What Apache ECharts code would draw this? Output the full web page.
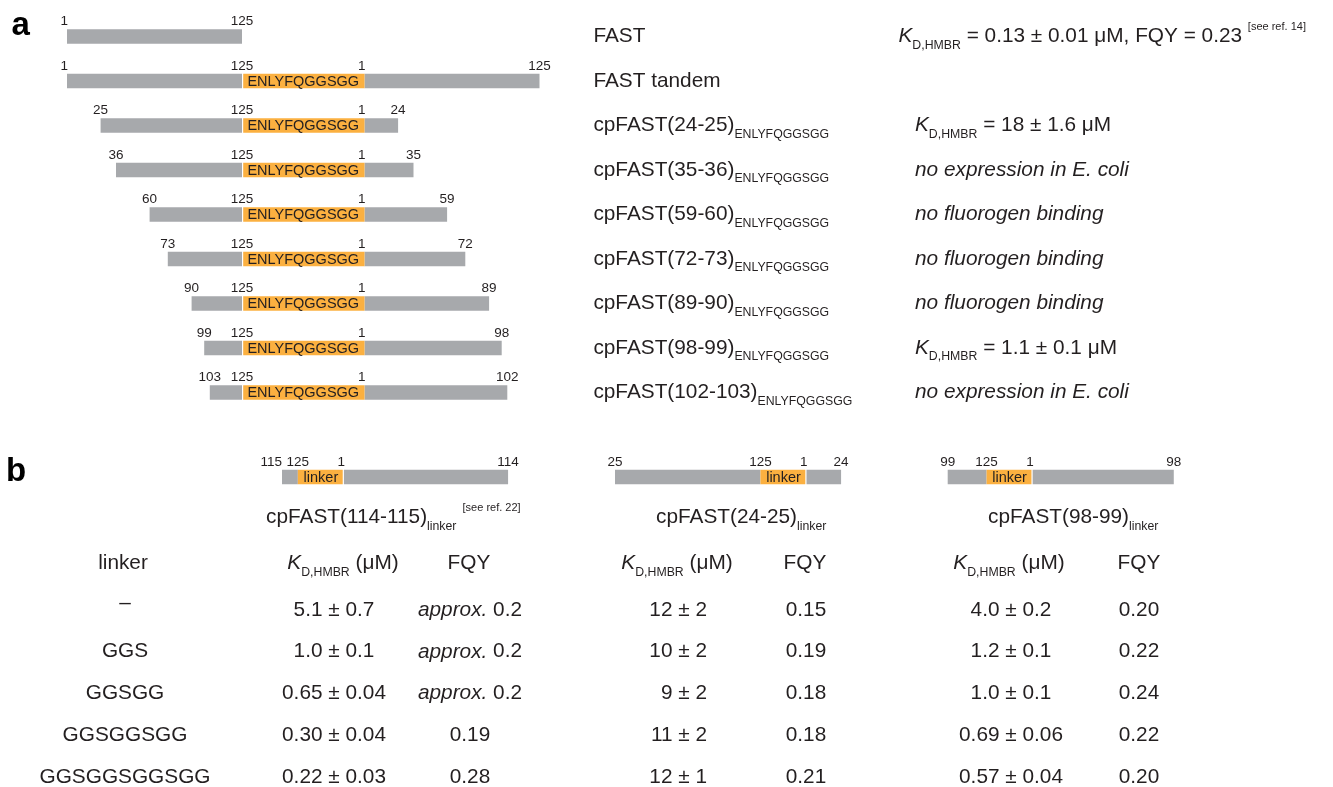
<!DOCTYPE html>
<html>
<head>
<meta charset="utf-8">
<script src="https://cdn.jsdelivr.net/npm/echarts@6/dist/echarts.min.js"></script>
<style>
  html, body { margin: 0; padding: 0; background: #ffffff; }
  #chart { width: 1333px; height: 787px; }
</style>
</head>
<body>
<div id="chart"></div>
<script>
// ---- Panel a: FAST, FAST tandem and circular permutants ----
const constructNames = ['FAST', 'FAST tandem', 'cpFAST(24-25)', 'cpFAST(35-36)', 'cpFAST(59-60)',
  'cpFAST(72-73)', 'cpFAST(89-90)', 'cpFAST(98-99)', 'cpFAST(102-103)'];
const constructSubscript = ['', '', 'ENLYFQGGSGG', 'ENLYFQGGSGG', 'ENLYFQGGSGG', 'ENLYFQGGSGG',
  'ENLYFQGGSGG', 'ENLYFQGGSGG', 'ENLYFQGGSGG'];
const constructFirst = [1, 1, 25, 36, 60, 73, 90, 99, 103];   // N-terminal residue
const constructLast = [125, 125, 24, 35, 59, 72, 89, 98, 102]; // C-terminal residue
const constructLinker = ['', 'ENLYFQGGSGG', 'ENLYFQGGSGG', 'ENLYFQGGSGG', 'ENLYFQGGSGG',
  'ENLYFQGGSGG', 'ENLYFQGGSGG', 'ENLYFQGGSGG', 'ENLYFQGGSGG'];
const constructNotes = ['K_D,HMBR = 0.13 ± 0.01 μM, FQY = 0.23', '', 'K_D,HMBR = 18 ± 1.6 μM',
  'no expression in E. coli', 'no fluorogen binding', 'no fluorogen binding', 'no fluorogen binding',
  'K_D,HMBR = 1.1 ± 0.1 μM', 'no expression in E. coli'];
const constructRefs = ['[see ref. 14]', '', '', '', '', '', '', '', ''];

// ---- Panel b: linker variants of three permutants ----
const cpNames = ['cpFAST(114-115)', 'cpFAST(24-25)', 'cpFAST(98-99)'];
const cpFirst = [115, 25, 99];
const cpLast = [114, 24, 98];
const cpRefs = ['[see ref. 22]', '', ''];

const linkerSeqs = ['–', 'GGS', 'GGSGG', 'GGSGGSGG', 'GGSGGSGGSGG'];
const kd114 = ['5.1 ± 0.7', '1.0 ± 0.1', '0.65 ± 0.04', '0.30 ± 0.04', '0.22 ± 0.03'];
const fqy114 = ['approx. 0.2', 'approx. 0.2', 'approx. 0.2', '0.19', '0.28'];
const kd24 = ['12 ± 2', '10 ± 2', '9 ± 2', '11 ± 2', '12 ± 1'];
const fqy24 = ['0.15', '0.19', '0.18', '0.18', '0.21'];
const kd98 = ['4.0 ± 0.2', '1.2 ± 0.1', '1.0 ± 0.1', '0.69 ± 0.06', '0.57 ± 0.04'];
const fqy98 = ['0.20', '0.22', '0.24', '0.22', '0.20'];

// ---- styling ----
const FONT = "'Liberation Sans', Arial, Helvetica, sans-serif";
const TEXT = '#231f20';
const GREY = '#a7a9ac';
const ORANGE = '#fbb040';
const BAR_H = 14.5;
const GAP = 1.2;
const NUM_SIZE = 13.5;
const MAIN_SIZE = 20.8;
const SUB_SIZE = 12.3;
const SUP_SIZE = 11;

// residue scale (px per residue) and drawn linker width in residue units
const SCALE_A = 1.40, LINK_A = 87.5, LEFT_A = 67;
const SCALE_B = 1.44, LINK_B = 32;
const B_STARTS = [282, 615, 947.7];
const B_CENTER_Y = 477;

function makeBarRenderer(first, last, linker, linkerUnits, gapSide) {
  return function (params, api) {
    const i = params.dataIndex;
    const row = api.value(1);
    const X = v => api.coord([v, row])[0];
    const yc = api.coord([api.value(0), row])[1];
    const top = yc - BAR_H / 2;
    const rect = (x0, x1, fill) => ({
      type: 'rect', shape: { x: x0, y: top, width: x1 - x0, height: BAR_H }, style: { fill: fill }
    });
    const grey = [], orange = [], texts = [];
    const aStart = first[i] - 1, aEnd = 125;
    grey.push(rect(X(aStart), X(aEnd), GREY));
    const labels = [{ v: aStart, t: String(first[i]) }, { v: aEnd, t: '125' }];
    if (linker[i]) {
      const lEnd = aEnd + linkerUnits, bEnd = lEnd + last[i];
      grey.push(rect(X(lEnd), X(bEnd), GREY));
      let lx0 = X(aEnd), lx1 = X(lEnd);
      if (gapSide === 'left') lx0 += GAP; else lx1 -= GAP;
      orange.push(rect(lx0, lx1, ORANGE));
      texts.push({
        type: 'text', x: (X(aEnd) + X(lEnd)) / 2, y: yc + 0.5,
        style: { text: linker[i], fill: TEXT, fontSize: 14.5, fontFamily: FONT, align: 'center', verticalAlign: 'middle' }
      });
      labels.push({ v: lEnd, t: '1' }, { v: bEnd, t: String(last[i]) });
    }
    labels.forEach((lb, k) => {
      let x = X(lb.v), align = 'center';
      if (lb.t === '1') { x += 1; align = 'right'; }
      else if (k === 0 && Math.abs(X(labels[1].v) - x) < 26) { align = 'right'; }
      texts.push({
        type: 'text', x: x, y: top - 7.5,
        style: { text: lb.t, fill: TEXT, fontSize: NUM_SIZE, fontFamily: FONT, align: align, verticalAlign: 'middle' }
      });
    });
    return { type: 'group', children: grey.concat(orange, texts) };
  };
}

// rich styles for axis labels (ECharts label naming)
const richLabel = {
  m: { fontSize: MAIN_SIZE, fontFamily: FONT, color: TEXT, lineHeight: 30 },
  i: { fontSize: MAIN_SIZE, fontFamily: FONT, color: TEXT, lineHeight: 30, fontStyle: 'italic' },
  k: { fontSize: MAIN_SIZE, fontFamily: FONT, color: TEXT, lineHeight: 30, fontStyle: 'italic' },
  s: { fontSize: SUB_SIZE, fontFamily: FONT, color: TEXT, lineHeight: SUB_SIZE, verticalAlign: 'bottom' },
  p: { fontSize: SUP_SIZE, fontFamily: FONT, color: TEXT, lineHeight: 25, verticalAlign: 'top' },
  g: { fontSize: MAIN_SIZE, fontFamily: FONT, width: 16.5, lineHeight: 30 }
};
// rich styles for free text (zrender naming)
const richText = {
  m: { fontSize: MAIN_SIZE, fontFamily: FONT, fill: TEXT, lineHeight: 30 },
  i: { fontSize: MAIN_SIZE, fontFamily: FONT, fill: TEXT, lineHeight: 30, fontStyle: 'italic' },
  k: { fontSize: MAIN_SIZE, fontFamily: FONT, fill: TEXT, lineHeight: 30, fontStyle: 'italic' },
  s: { fontSize: SUB_SIZE, fontFamily: FONT, fill: TEXT, lineHeight: SUB_SIZE, verticalAlign: 'bottom' },
  p: { fontSize: SUP_SIZE, fontFamily: FONT, fill: TEXT, lineHeight: 25, verticalAlign: 'top' },
  d: { fontSize: MAIN_SIZE, fontFamily: FONT, fill: TEXT, padding: [0, 0, 14, 0] }
};

function kdMarkup(str) {
  return '{k|K}{s|D,HMBR}{m|' + str.slice(8) + '}';
}
function cellMarkup(str) {
  if (str === '–') return '{d|–}';
  if (str.indexOf('approx.') === 0) return '{i|approx.}{m|' + str.slice(7) + '}';
  return '{m|' + str + '}';
}

const chart = echarts.init(document.getElementById('chart'), null, { renderer: 'canvas' });

// grids: panel a, then the three panel b constructs
const widthA = (125 + LINK_A + 125) * SCALE_A;
const grids = [{
  left: LEFT_A, top: 14.25, width: widthA, height: 400.5,
  containLabel: false, outerBoundsMode: 'none'
}];
const xAxes = [{ type: 'value', gridIndex: 0, min: 0, max: 125 + LINK_A + 125, show: false }];
const yAxes = [
  {
    type: 'category', gridIndex: 0, data: constructNames, inverse: true, position: 'right',
    axisLine: { show: false }, axisTick: { show: false }, splitLine: { show: false },
    axisLabel: {
      interval: 0, margin: 593.4 - (LEFT_A + widthA), align: 'left', rich: richLabel,
      formatter: (val, idx) => '{m|' + val + '}' + (constructSubscript[idx] ? '{s|' + constructSubscript[idx] + '}' : '')
    }
  },
  {
    type: 'category', gridIndex: 0, data: constructNames, inverse: true, position: 'right',
    axisLine: { show: false }, axisTick: { show: false }, splitLine: { show: false },
    axisLabel: {
      interval: 0, margin: 898.5 - (LEFT_A + widthA), align: 'left', rich: richLabel,
      formatter: (val, idx) => {
        const note = constructNotes[idx];
        if (!note) return '';
        const ref = constructRefs[idx];
        const body = note.indexOf('K_D,HMBR') === 0 ? kdMarkup(ref ? note + ' ' : note) : '{i|' + note + '}';
        return (ref ? '' : '{g| }') + body + (ref ? '{p|' + ref + '}' : '');
      }
    }
  }
];
const series = [{
  type: 'custom', xAxisIndex: 0, yAxisIndex: 0, clip: false, silent: true,
  data: constructNames.map((n, i) => [constructFirst[i] - 1, i]),
  encode: { x: 0, y: 1 },
  renderItem: makeBarRenderer(constructFirst, constructLast, constructLinker, LINK_A, 'left')
}];

cpNames.forEach((name, j) => {
  const min = cpFirst[j] - 1, max = 125 + LINK_B + cpLast[j];
  grids.push({
    left: B_STARTS[j], top: B_CENTER_Y - 20, height: 40, width: (max - min) * SCALE_B,
    containLabel: false, outerBoundsMode: 'none'
  });
  xAxes.push({ type: 'value', gridIndex: j + 1, min: min, max: max, show: false });
  yAxes.push({ type: 'category', gridIndex: j + 1, data: [name], show: false });
  series.push({
    type: 'custom', xAxisIndex: j + 1, yAxisIndex: j + 2, clip: false, silent: true,
    data: [[min, 0]], encode: { x: 0, y: 1 },
    renderItem: makeBarRenderer([cpFirst[j]], [cpLast[j]], ['linker'], LINK_B, 'right')
  });
});

// panel letters, titles of panel b and the linker table
const graphics = [
  { type: 'text', x: 11.5, y: 26, style: { text: 'a', fill: '#000', fontSize: 33, fontWeight: 'bold', fontFamily: FONT, align: 'left', verticalAlign: 'middle' } },
  { type: 'text', x: 6, y: 471.5, style: { text: 'b', fill: '#000', fontSize: 33, fontWeight: 'bold', fontFamily: FONT, align: 'left', verticalAlign: 'middle' } }
];
const titleX = [266, 656, 988];
cpNames.forEach((name, j) => {
  graphics.push({
    type: 'text', x: titleX[j], y: 517.5,
    style: {
      text: '{m|' + name + '}{s|linker}' + (cpRefs[j] ? '{p|  ' + cpRefs[j] + '}' : ''),
      rich: richText, align: 'left', verticalAlign: 'middle'
    }
  });
});

const HEADER_Y = 563.5, ROW_Y0 = 610, ROW_STEP = 41.75;
const headerCells = [
  { x: 123, text: '{m|linker}' },
  { x: 343, text: '{k|K}{s|D,HMBR}{m| (μM)}' },
  { x: 469, text: '{m|FQY}' },
  { x: 677, text: '{k|K}{s|D,HMBR}{m| (μM)}' },
  { x: 805, text: '{m|FQY}' },
  { x: 1009, text: '{k|K}{s|D,HMBR}{m| (μM)}' },
  { x: 1139, text: '{m|FQY}' }
];
headerCells.forEach(c => graphics.push({
  type: 'text', x: c.x, y: HEADER_Y,
  style: { text: c.text, rich: richText, align: 'center', verticalAlign: 'middle' }
}));
const columns = [
  { values: linkerSeqs, x: 125, align: 'center' },
  { values: kd114, x: 334, align: 'center' },
  { values: fqy114, x: 470, align: 'center' },
  { values: kd24, x: 707, align: 'right' },
  { values: fqy24, x: 806, align: 'center' },
  { values: kd98, x: 1011, align: 'center' },
  { values: fqy98, x: 1139, align: 'center' }
];
columns.forEach(col => col.values.forEach((v, r) => graphics.push({
  type: 'text', x: col.x, y: ROW_Y0 + r * ROW_STEP,
  style: { text: cellMarkup(v), rich: richText, align: col.align, verticalAlign: 'middle' }
})));

chart.setOption({
  animation: false,
  backgroundColor: '#ffffff',
  textStyle: { fontFamily: FONT, color: TEXT },
  grid: grids,
  xAxis: xAxes,
  yAxis: yAxes,
  series: series,
  graphic: { elements: graphics }
});
</script>
</body>
</html>
